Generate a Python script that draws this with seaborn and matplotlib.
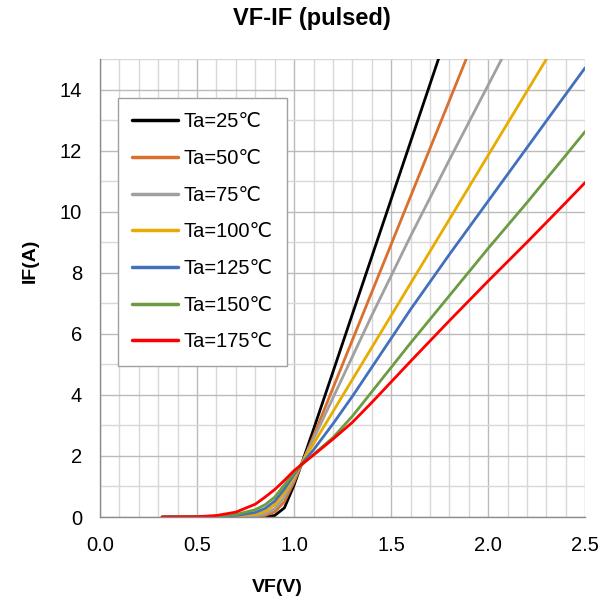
import numpy as np
import pandas as pd
import matplotlib
matplotlib.use("Agg")
import matplotlib.pyplot as plt
import seaborn as sns
from matplotlib.ticker import MultipleLocator

# VF grid (V) and IF (A) for each ambient temperature
vf = [0.32, 0.5, 0.6, 0.7, 0.8, 0.85, 0.9, 0.95, 1.0, 1.05, 1.1,
      1.2, 1.3, 1.4, 1.6, 1.8, 2.0, 2.2, 2.4, 2.5]

if_25 = [0, 0, 0, 0, 0, 0.01, 0.05, 0.3, 1.05, 1.95, 2.87,
         4.75, 6.64, 8.52, 12.29, 16.06, 19.8, 23.6, 27.4, 29.3]
if_50 = [0, 0, 0, 0, 0.02, 0.05, 0.17, 0.5, 1.15, 1.9, 2.65,
         4.22, 5.79, 7.36, 10.5, 13.64, 16.78, 19.9, 23.0, 24.6]
if_75 = [0, 0, 0, 0.01, 0.04, 0.1, 0.27, 0.65, 1.25, 1.9, 2.55,
         3.9, 5.25, 6.6, 9.2, 11.7, 14.15, 16.6, 19.0, 20.2]
if_100 = [0, 0, 0.01, 0.03, 0.09, 0.18, 0.4, 0.8, 1.33, 1.88, 2.4,
          3.45, 4.5, 5.55, 7.65, 9.75, 11.85, 13.95, 16.05, 17.1]
if_125 = [0, 0, 0.015, 0.05, 0.15, 0.28, 0.52, 0.92, 1.4, 1.82, 2.2,
          3.05, 3.95, 4.9, 6.8, 8.6, 10.35, 12.1, 13.85, 14.72]
if_150 = [0, 0.005, 0.025, 0.08, 0.24, 0.4, 0.65, 1.05, 1.45, 1.77, 2.05,
          2.6, 3.3, 4.1, 5.7, 7.25, 8.8, 10.3, 11.85, 12.63]
if_175 = [0, 0.01, 0.05, 0.16, 0.42, 0.65, 0.9, 1.2, 1.52, 1.78, 2.03,
          2.55, 3.1, 3.75, 5.1, 6.43, 7.73, 9.0, 10.3, 10.96]

labels = ["Ta=25℃", "Ta=50℃", "Ta=75℃", "Ta=100℃",
          "Ta=125℃", "Ta=150℃", "Ta=175℃"]
colors = ["#000000", "#D9702E", "#A0A0A0", "#E8AC00",
          "#4270BD", "#6C9B42", "#FF0000"]

series = [if_25, if_50, if_75, if_100, if_125, if_150, if_175]
df = pd.concat(
    [pd.DataFrame({"VF": vf, "IF": s, "Temp": lab}) for s, lab in zip(series, labels)],
    ignore_index=True,
)

sns.set_style("white")
plt.rcParams["font.family"] = ["Liberation Sans", "DejaVu Sans"]
plt.rcParams["text.color"] = "black"
plt.rcParams["axes.labelcolor"] = "black"
plt.rcParams["xtick.color"] = "black"
plt.rcParams["ytick.color"] = "black"

fig = plt.figure(figsize=(5.99, 6.03), dpi=100)
ax = fig.add_axes([0.167, 0.1426, 0.81, 0.7594])

sns.lineplot(data=df, x="VF", y="IF", hue="Temp", hue_order=labels,
             palette=colors, linewidth=2.0, ax=ax, sort=False)

ax.set_xlim(0, 2.5)
ax.set_ylim(0, 15)
ax.xaxis.set_major_locator(MultipleLocator(0.5))
ax.xaxis.set_minor_locator(MultipleLocator(0.1))
ax.yaxis.set_major_locator(MultipleLocator(2))
ax.yaxis.set_minor_locator(MultipleLocator(1))
ax.xaxis.set_major_formatter(plt.FormatStrFormatter("%.1f"))
ax.grid(which="major", color="#BBBBBB", linewidth=1.0)
ax.grid(which="minor", color="#D8D8D8", linewidth=1.0)
ax.set_axisbelow(True)
ax.tick_params(axis="x", which="both", length=0, labelsize=14.5, pad=14)
ax.tick_params(axis="y", which="both", length=0, labelsize=14.5, pad=13)

for side in ["top", "right"]:
    ax.spines[side].set_visible(False)
for side in ["left", "bottom"]:
    ax.spines[side].set_color("#8C8C8C")
    ax.spines[side].set_linewidth(1.0)

ax.set_xlabel("VF(V)", fontsize=14, fontweight="bold")
ax.set_ylabel("IF(A)", fontsize=14, fontweight="bold")
ax.xaxis.label.set_va("center")
ax.yaxis.label.set_va("center")
ax.xaxis.set_label_coords(0.365, -0.155)
ax.yaxis.set_label_coords(-0.144, 0.559)
fig.text(0.521, 0.970, "VF-IF (pulsed)", ha="center", va="center",
         fontsize=17, fontweight="bold")

leg = ax.legend(loc="upper left", bbox_to_anchor=(0.037, 0.915), borderaxespad=0,
                fontsize=14.5, labelspacing=0.88, handlelength=2.3, handletextpad=0.25,
                borderpad=0.7, fancybox=False, framealpha=1, edgecolor="#A0A0A0")
leg.get_frame().set_linewidth(1.0)
for line in leg.get_lines():
    line.set_linewidth(2.5)

fig.savefig("out.png", dpi=100)
